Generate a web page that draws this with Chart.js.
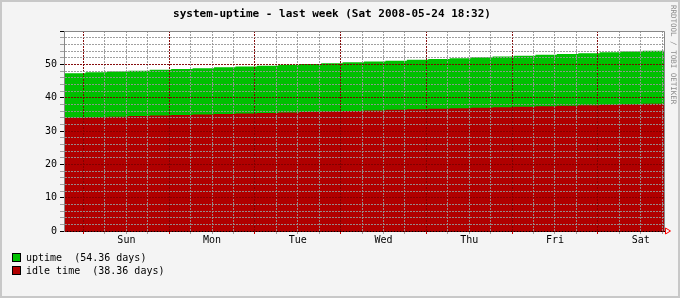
<!DOCTYPE html>
<html>
<head>
<meta charset="utf-8">
<script src="https://cdn.jsdelivr.net/npm/chart.js@4"></script>
<style>
  body { margin: 0; background: #f4f4f4; }
  #wrap { position: relative; width: 680px; height: 298px; }
  .legend-row { position: absolute; left: 12px; font: 10px 'DejaVu Sans Mono', monospace; color: #000; white-space: pre; line-height: 12px; }
  .legend-box { display: inline-block; width: 7px; height: 7px; border: 1px solid #000; vertical-align: -1px; margin-right: 5px; }
</style>
</head>
<body>
<div id="wrap">
  <canvas id="uptimeChart" width="680" height="298"></canvas>
</div>
<script>
/**
 * system-uptime, last week (rrdtool style)
 */

// hours since graph start (Sat 18:32 of the previous week)
const hours = [0, 6, 12, 18, 24, 30, 36, 42, 48, 54, 60, 66, 72, 78, 84, 90, 96,
    102, 108, 114, 120, 126, 132, 138, 144, 150, 156, 162, 168];

const uptimeDays = [47.36, 47.61, 47.86, 48.11, 48.36, 48.61, 48.86, 49.11, 49.36, 49.61,
    49.86, 50.11, 50.36, 50.61, 50.86, 51.11, 51.36, 51.61, 51.86, 52.11, 52.36, 52.61,
    52.86, 53.11, 53.36, 53.61, 53.86, 54.11, 54.36];

const idleDays = [34.00, 34.16, 34.31, 34.47, 34.62, 34.78, 34.93, 35.09, 35.25, 35.40,
    35.56, 35.71, 35.87, 36.02, 36.18, 36.34, 36.49, 36.65, 36.80, 36.96, 37.11, 37.27,
    37.43, 37.58, 37.74, 37.89, 38.05, 38.20, 38.36];

const dayNames = ['Sun', 'Mon', 'Tue', 'Wed', 'Thu', 'Fri', 'Sat'];
const firstMidnight = 5.47;   // Sun 00:00, in hours after start
const gridStepHours = 6;
const yLabels = [0, 10, 20, 30, 40, 50];

const legendLabels = ['uptime  (54.36 days)', 'idle time  (38.36 days)'];
const legendColors = ['#00c000', '#b00000'];

const MAJOR = 'rgba(128, 0, 0, 0.95)';
const MINOR = 'rgba(150, 150, 150, 0.9)';
const MONO = "'DejaVu Sans Mono', monospace";

function buildXTicks() {
    const ticks = [];
    for (let h = firstMidnight; h <= 168; h += gridStepHours) ticks.push({ value: h });
    return ticks;
}

const rrdFrame = {
    id: 'rrdFrame',
    beforeDraw(chart) {
        const { ctx, chartArea: a } = chart;
        ctx.save();
        ctx.fillStyle = '#f4f4f4';
        ctx.fillRect(0, 0, chart.width, chart.height);
        ctx.fillStyle = '#ffffff';
        ctx.fillRect(a.left, a.top, a.right - a.left, a.bottom - a.top);
        ctx.restore();
    },
    afterDraw(chart) {
        const { ctx, chartArea: a } = chart;
        ctx.save();
        // outer frame
        ctx.strokeStyle = '#c8c8c8';
        ctx.lineWidth = 2;
        ctx.strokeRect(1, 1, chart.width - 2, chart.height - 2);
        // top and right edge of plot
        ctx.strokeStyle = '#888';
        ctx.lineWidth = 1;
        ctx.beginPath();
        ctx.moveTo(a.left, a.top + 0.5);
        ctx.lineTo(a.right + 0.5, a.top + 0.5);
        ctx.lineTo(a.right + 0.5, a.bottom);
        ctx.stroke();
        // arrow at end of x axis
        ctx.strokeStyle = '#ff0000';
        ctx.beginPath();
        ctx.moveTo(a.right + 1.5, a.bottom - 3);
        ctx.lineTo(a.right + 1.5, a.bottom + 3);
        ctx.lineTo(a.right + 6.5, a.bottom);
        ctx.closePath();
        ctx.stroke();
        // watermark
        ctx.translate(673, 5);
        ctx.rotate(Math.PI / 2);
        ctx.fillStyle = '#8c8c8c';
        ctx.font = '7.5px ' + MONO;
        ctx.textBaseline = 'middle';
        ctx.fillText('RRDTOOL / TOBI OETIKER', 0, 0);
        ctx.restore();
    }
};

const chart = new Chart(document.getElementById('uptimeChart'), {
    type: 'line',
    data: {
        labels: hours,
        datasets: [{
            label: 'idle time',
            data: hours.map((h, i) => ({ x: h, y: idleDays[i] })),
            backgroundColor: legendColors[1],
            borderWidth: 0,
            pointRadius: 0,
            stepped: true,
            fill: 'origin'
        }, {
            label: 'uptime',
            data: hours.map((h, i) => ({ x: h, y: uptimeDays[i] })),
            backgroundColor: legendColors[0],
            borderWidth: 0,
            pointRadius: 0,
            stepped: true,
            fill: 'origin'
        }]
    },
    options: {
        responsive: false,
        animation: false,
        layout: { padding: { left: 0, right: 16, top: 0, bottom: 0 } },
        plugins: {
            legend: { display: false },
            tooltip: { enabled: false },
            title: {
                display: true,
                text: 'system-uptime - last week (Sat 2008-05-24 18:32)',
                color: '#000',
                font: { family: MONO, size: 11, weight: 'bold', lineHeight: 1.2 },
                padding: { top: 8, bottom: 9.8 }
            }
        },
        scales: {
            x: {
                type: 'linear',
                min: 0,
                max: 168,
                afterBuildTicks: s => { s.ticks = buildXTicks(); },
                afterFit: s => { s.height = 67; },
                grid: {
                    z: 1,
                    color: c => (c.index % 4 === 0 ? MAJOR : MINOR),
                    tickColor: c => (c.index % 4 === 0 ? '#cc0000' : MINOR),
                    tickLength: 3
                },
                border: { display: true, z: 1, color: '#000', width: 1, dash: [2, 1] },
                ticks: {
                    autoSkip: false,
                    maxRotation: 0,
                    padding: 0,
                    color: '#000',
                    font: { family: MONO, size: 10 },
                    callback: (v, i) => (i % 4 === 2 ? dayNames[(i - 2) / 4] : '')
                }
            },
            y: {
                min: 0,
                max: 60,
                afterFit: s => { s.width = 64; },
                grid: {
                    z: 1,
                    color: c => (c.tick.value % 10 === 0 ? MAJOR : MINOR),
                    tickColor: c => (c.tick.value % 10 === 0 ? '#000' : MINOR),
                    tickLength: 4
                },
                border: { display: true, z: 1, color: '#888', width: 1, dash: [2, 1] },
                ticks: {
                    stepSize: 2,
                    autoSkip: false,
                    padding: 3,
                    color: '#000',
                    font: { family: MONO, size: 10 },
                    callback: v => (yLabels.includes(v) ? String(v) : '')
                }
            }
        }
    },
    plugins: [rrdFrame]
});

// legend below the plot
const wrap = document.getElementById('wrap');
legendLabels.forEach((text, i) => {
    const row = document.createElement('div');
    row.className = 'legend-row';
    row.style.top = (252 + i * 13) + 'px';
    row.innerHTML = `<span class="legend-box" style="background:${legendColors[i]}"></span>${text}`;
    wrap.appendChild(row);
});
</script>
</body>
</html>
